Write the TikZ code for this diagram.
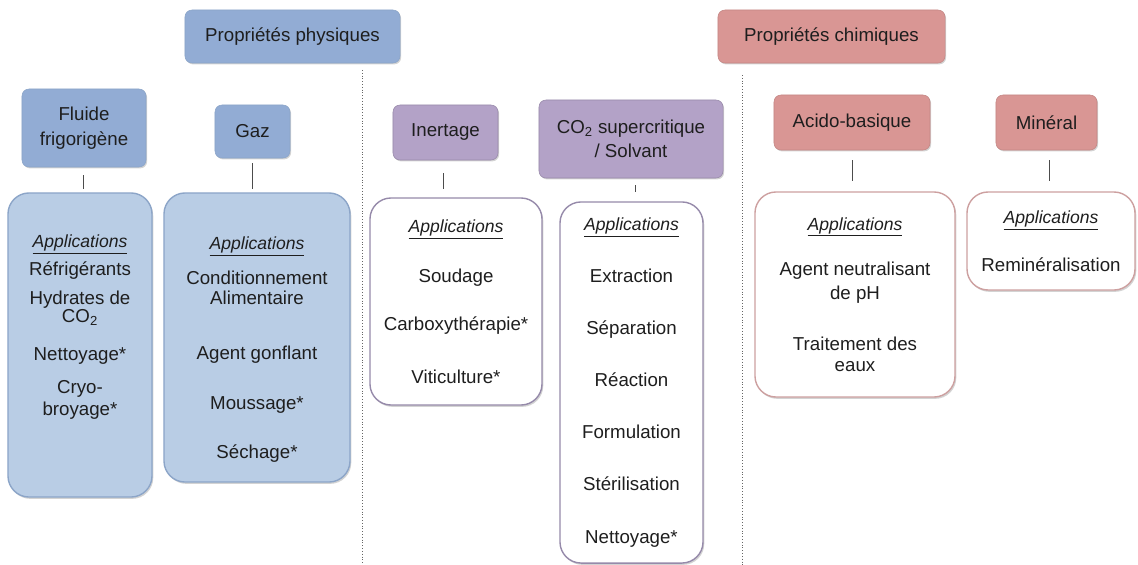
\documentclass[tikz,border=0pt]{standalone}
\usepackage{fontspec}
\setmainfont{Liberation Sans}
\usetikzlibrary{positioning,shadows}

\definecolor{physhead}{RGB}{146,172,212}
\definecolor{physapp}{RGB}{185,205,229}
\definecolor{physline}{RGB}{140,165,200}
\definecolor{solvhead}{RGB}{179,162,199}
\definecolor{solvline}{RGB}{150,138,170}
\definecolor{chimhead}{RGB}{217,150,148}
\definecolor{chimline}{RGB}{205,160,160}
\definecolor{inktext}{RGB}{30,30,30}

\begin{document}
\begin{tikzpicture}[
    x=0.025cm, y=-0.025cm,
    every node/.style={text=inktext,font=\fontsize{13.3}{15}\selectfont},
    head/.style={rectangle,align=center,rounded corners=5pt,inner sep=2pt,
        font=\fontsize{13.3}{17.5}\selectfont,
        drop shadow={shadow xshift=0.8pt,shadow yshift=-1pt,opacity=0.35}},
    appbox/.style={rectangle,align=center,rounded corners=15pt,inner sep=2pt,line width=1pt,
        drop shadow={shadow xshift=0.9pt,shadow yshift=-1.3pt,opacity=0.35}},
    phys/.style={head,fill=physhead,draw=physline},
    solv/.style={head,fill=solvhead,draw=solvhead!85!black},
    chim/.style={head,fill=chimhead,draw=chimhead!90!black},
    physbox/.style={appbox,fill=physapp,draw=physline},
    solvbox/.style={appbox,fill=white,draw=solvline},
    chimbox/.style={appbox,fill=white,draw=chimline},
    link/.style={draw=black!70,line width=0.7pt},
    sep/.style={draw=black!60,line width=0.7pt,dash pattern=on 0.7pt off 1.3pt}
]
    \useasboundingbox (0,0) rectangle (1138,565);

    % main headings
    \node[phys,minimum width=5.375cm,minimum height=1.325cm] (physique) at (292.5,36.5) {Propriétés physiques};
    \node[chim,minimum width=5.675cm,minimum height=1.325cm] (chimique) at (831.5,36.5) {Propriétés chimiques};

    % categories
    \node[phys,minimum width=3.1cm,minimum height=1.95cm] (fluide) at (84,128) {Fluide\\frigorigène};
    \node[phys,minimum width=1.875cm,minimum height=1.325cm] (gaz) at (252.5,131.5) {Gaz};
    \node[solv,minimum width=2.625cm,minimum height=1.375cm] (inertage) at (445.5,132.5) {Inertage};
    \node[solv,minimum width=4.6cm,minimum height=1.95cm] (solvant) at (631,139) {CO\textsubscript{2} supercritique\\/ Solvant};
    \node[chim,minimum width=3.9cm,minimum height=1.375cm] (acido) at (852,122.5) {Acido-basique};
    \node[chim,minimum width=2.525cm,minimum height=1.375cm] (mineral) at (1046.5,122.5) {Minéral};

    % applications
    \node[physbox,minimum width=3.6cm,minimum height=7.6cm] (fluideapp) at (80,345)
        {{\fontsize{12.5}{15}\selectfont\underline{\textit{Applications}}}\\[5pt]
         Réfrigérants\\[5.5pt]Hydrates de\\[-2pt]CO\textsubscript{2}\\[12pt]
         Nettoyage*\\[8.5pt]Cryo-\\broyage*\\[13.5pt]\mbox{}};
    \node[physbox,minimum width=4.65cm,minimum height=7.225cm] (gazapp) at (257,337.5)
        {\mbox{}\\[11.5pt]{\fontsize{12.5}{15}\selectfont\underline{\textit{Applications}}}\\[10pt]
         Conditionnement\\[-1pt]Alimentaire\\[24pt]Agent gonflant\\[20.5pt]
         Moussage*\\[20.5pt]Séchage*};
    \node[solvbox,minimum width=4.3cm,minimum height=5.175cm] (inertapp) at (456,301.5)
        {{\fontsize{12.5}{15}\selectfont\underline{\textit{Applications}}}\\[20.5pt]
         Soudage\\[19.5pt]Carboxythérapie*\\[22pt]Viticulture*};
    \node[solvbox,minimum width=3.575cm,minimum height=9.025cm] (solvapp) at (631.5,382.5)
        {{\fontsize{12.5}{15}\selectfont\underline{\textit{Applications}}}\\[22pt]
         Extraction\\[22pt]Séparation\\[22pt]Réaction\\[22pt]
         Formulation\\[22pt]Stérilisation\\[22pt]Nettoyage*};
    \node[chimbox,minimum width=5cm,minimum height=5.125cm] (acidoapp) at (855,294.5)
        {{\fontsize{12.5}{15}\selectfont\underline{\textit{Applications}}}\\[17.5pt]
         Agent neutralisant\\[2pt]de pH\\[21pt]Traitement des\\eaux};
    \node[chimbox,minimum width=4.2cm,minimum height=2.45cm] (mineralapp) at (1051,241)
        {{\fontsize{12.5}{15}\selectfont\underline{\textit{Applications}}}\\[19pt]
         Reminéralisation};

    % separators
    \coordinate (septop1) at (362,70);
    \coordinate (sepbot1) at (362,565);
    \coordinate (septop2) at (742,75);
    \coordinate (sepbot2) at (742,565);
    \draw[sep] (septop1) -- (sepbot1);
    \draw[sep] (septop2) -- (sepbot2);

    % links
    \draw[link,shorten <=0.2cm,shorten >=0.08cm] ([xshift=-0.025cm]fluide.south) -- ([xshift=-0.025cm]fluide.south |- fluideapp.north);
    \draw[link,shorten <=0.13cm,shorten >=0.08cm] (gaz.south) -- (gaz.south |- gazapp.north);
    \draw[link,shorten <=0.32cm,shorten >=0.2cm] ([xshift=-0.06cm]inertage.south) -- ([xshift=-0.06cm]inertage.south |- inertapp.north);
    \draw[link,shorten <=0.18cm,shorten >=0.22cm] ([xshift=0.1cm]solvant.south) -- ([xshift=0.1cm]solvant.south |- solvapp.north);
    \draw[link,shorten <=0.25cm,shorten >=0.25cm] (acido.south) -- (acido.south |- acidoapp.north);
    \draw[link,shorten <=0.25cm,shorten >=0.25cm] ([xshift=0.08cm]mineral.south) -- ([xshift=0.08cm]mineral.south |- mineralapp.north);
\end{tikzpicture}
\end{document}
